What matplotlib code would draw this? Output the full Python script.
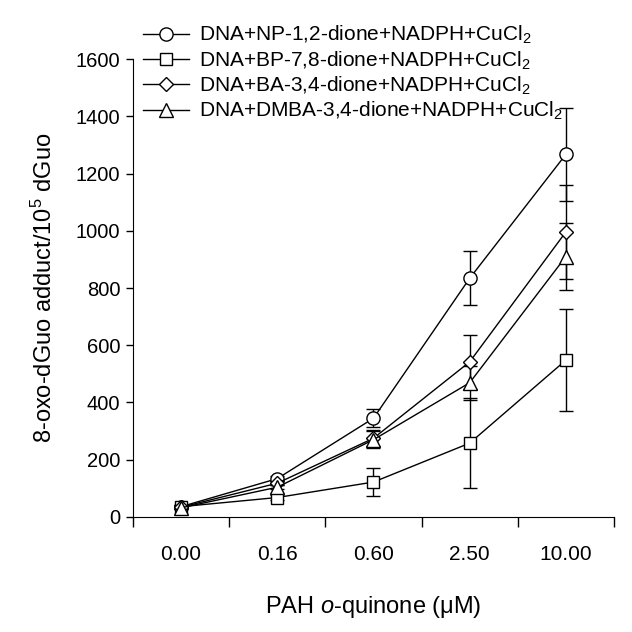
import numpy as np
from matplotlib import pyplot as plt

plt.rcParams['font.family'] = 'Liberation Sans'
plt.rcParams['mathtext.fontset'] = 'custom'
plt.rcParams['mathtext.rm'] = 'Liberation Sans'
plt.rcParams['mathtext.it'] = 'Liberation Sans:italic'

doses = ['0.00', '0.16', '0.60', '2.50', '10.00']

np_mean = [36, 134, 345, 834, 1267]
np_err = [5, 10, 31, 95, 163]
bp_mean = [36, 68, 122, 258, 548]
bp_err = [5, 8, 50, 158, 178]
ba_mean = [34, 118, 275, 542, 996]
ba_err = [5, 8, 28, 95, 165]
dmba_mean = [32, 104, 270, 469, 910]
dmba_err = [5, 8, 30, 59, 116]

labels = ['DNA+NP-1,2-dione+NADPH+CuCl$_2$',
          'DNA+BP-7,8-dione+NADPH+CuCl$_2$',
          'DNA+BA-3,4-dione+NADPH+CuCl$_2$',
          'DNA+DMBA-3,4-dione+NADPH+CuCl$_2$']

fig = plt.figure(figsize=(6.32, 6.32), dpi=100)
ax = fig.add_axes([0.2104, 0.182, 0.7611, 0.7246])

x = np.arange(len(doses)) + 0.5
series = [(np_mean, np_err, 'o', 9.5),
          (bp_mean, bp_err, 's', 8.5),
          (ba_mean, ba_err, 'D', 7),
          (dmba_mean, dmba_err, '^', 10)]

handles = []
for (m, e, mk, ms), lab in zip(series, labels):
    ax.errorbar(x, m, yerr=e, fmt='none', ecolor='black', elinewidth=1,
                capsize=5, capthick=1, zorder=2)
    h, = ax.plot(x, m, color='black', lw=1, marker=mk, ms=ms,
                 mfc='white', mec='black', mew=1, zorder=3, label=lab)
    handles.append(h)

ax.set_xlim(0, 5)
ax.set_ylim(0, 1600)
ax.set_yticks(range(0, 1601, 200))
ax.set_xticks(range(0, 6))
ax.set_xticklabels([])
ax.set_xticks(x, minor=True)
ax.set_xticklabels(doses, minor=True, fontsize=15)
ax.tick_params(axis='x', which='minor', length=0, pad=20)
ax.tick_params(axis='x', which='major', length=7, width=1, direction='out')
ax.tick_params(axis='y', length=5, width=1, labelsize=14.5, pad=4)

ax.spines['top'].set_visible(False)
ax.spines['right'].set_visible(False)

ax.set_xlabel('PAH $\\it{o}$-quinone (μM)', fontsize=17, labelpad=22)
ax.set_ylabel('8-oxo-dGuo adduct/10$^5$ dGuo', fontsize=17, labelpad=14)

leg = ax.legend(handles=handles, loc='upper left', bbox_to_anchor=(0.004, 1.095),
                frameon=False, fontsize=15, handlelength=2.2, handletextpad=0.5,
                labelspacing=0.15, borderaxespad=0.0)

fig.savefig('out.png', dpi=100)
